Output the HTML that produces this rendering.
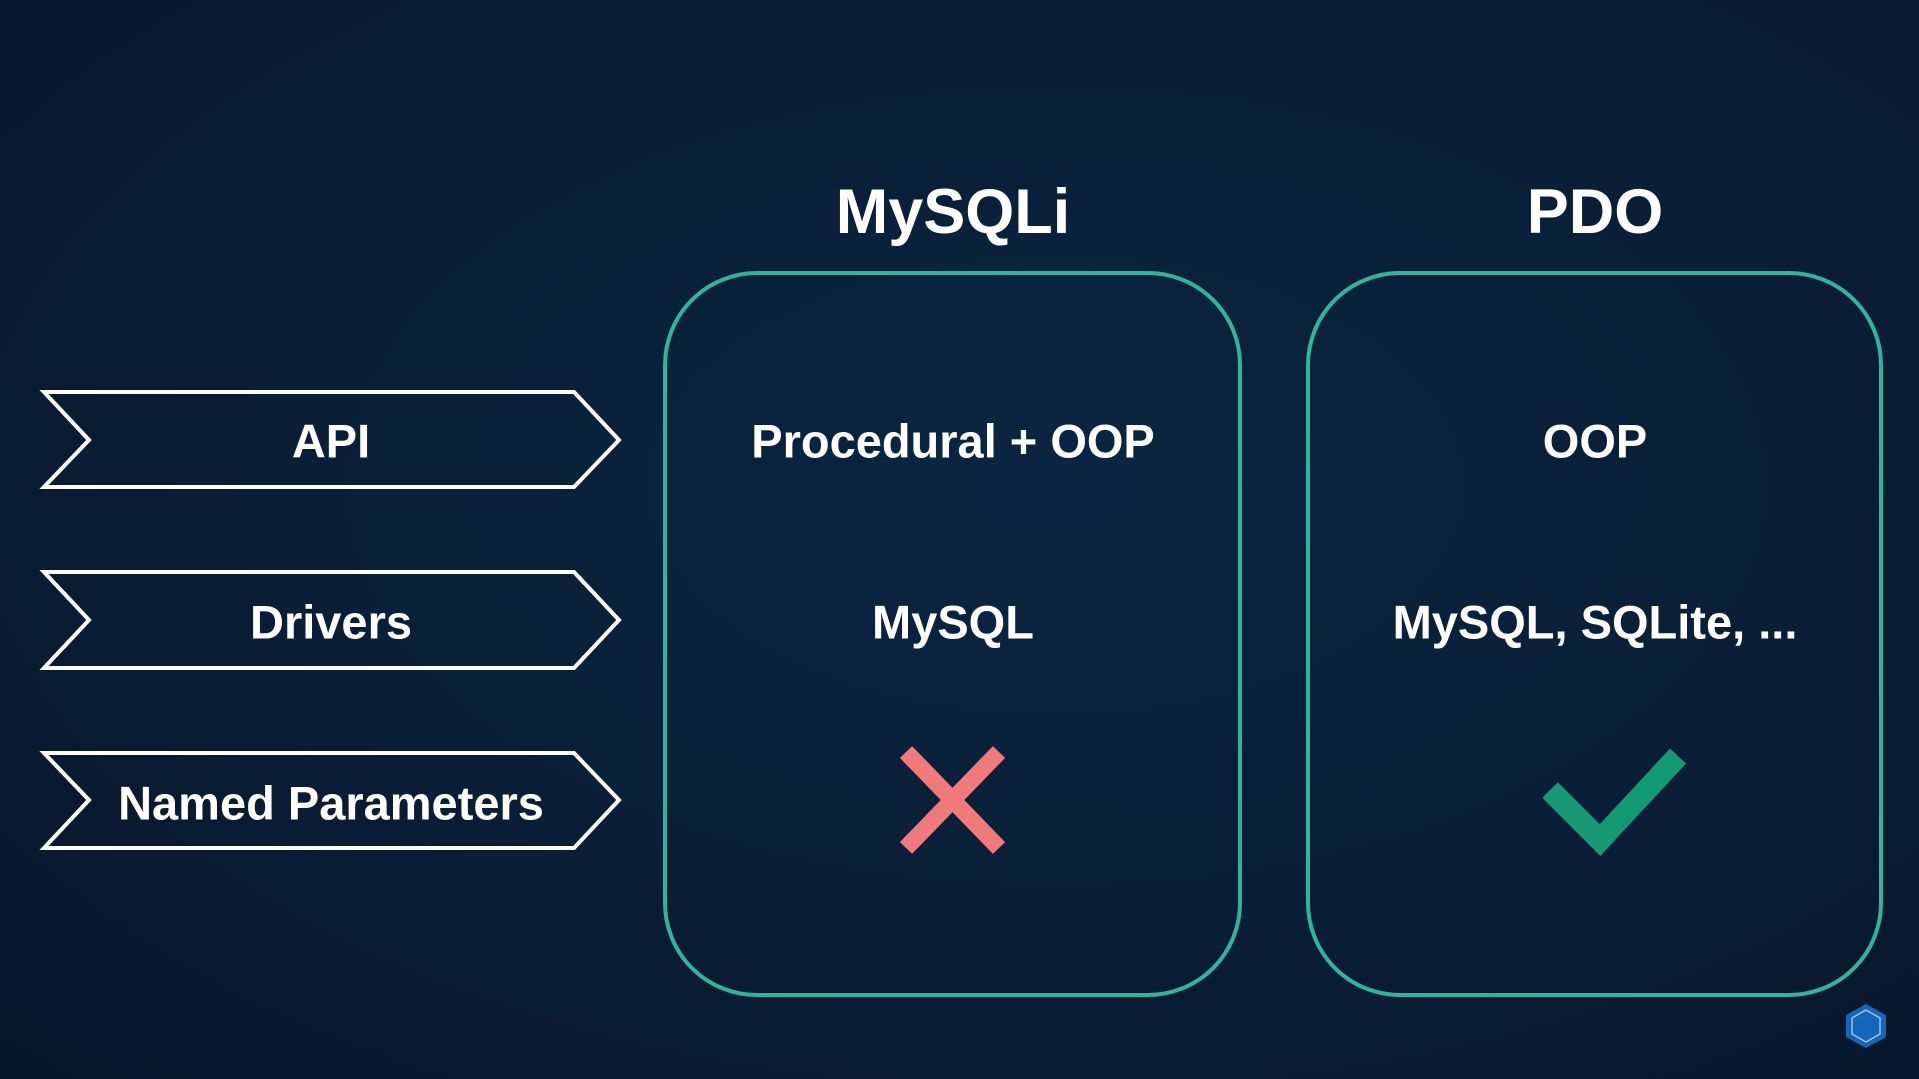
<!DOCTYPE html>
<html><head><style>
html,body{margin:0;padding:0;}
body{width:1919px;height:1079px;overflow:hidden;background:radial-gradient(ellipse at 55% 45%,#0b2542 0%,#0a1f38 45%,#081629 100%);font-family:"Liberation Sans",sans-serif;color:#fff;position:relative;}
.t{position:absolute;font-weight:bold;text-align:center;white-space:nowrap;transform:translate(-50%,-50%);}
</style></head><body>
<svg width="1919" height="1079" style="position:absolute;left:0;top:0">
<g fill="none" stroke="#fff" stroke-width="4" stroke-linejoin="miter">
<polygon points="44,392 574,392 619,440 574,487 44,487 89,440"/>
<polygon points="44,572 574,572 619,620 574,668 44,668 89,620"/>
<polygon points="44,753 574,753 619,800 574,848 44,848 89,800"/>
</g>
<rect x="665" y="273" width="575" height="722" rx="92" fill="none" stroke="#2fb59a" stroke-width="4"/>
<rect x="1308" y="273" width="573" height="722" rx="92" fill="none" stroke="#2fb59a" stroke-width="4"/>
<g stroke="#f07a7a" stroke-width="17">
<line x1="906" y1="752" x2="999" y2="848"/>
<line x1="999" y1="752" x2="906" y2="848"/>
</g>
<polyline points="1550,790 1600,840 1678,756" fill="none" stroke="#149a72" stroke-width="22"/>
<polygon points="1866,1004 1886,1015 1886,1037 1866,1048 1846,1037 1846,1015" fill="#1466b8"/>
<polygon points="1866,1010 1880,1018 1880,1034 1866,1042 1852,1034 1852,1018" fill="none" stroke="#9cc4ec" stroke-width="1.5"/>
</svg>
<div class="t" style="left:331px;top:441px;font-size:47px">API</div>
<div class="t" style="left:331px;top:622px;font-size:47px">Drivers</div>
<div class="t" style="left:331px;top:803px;font-size:47px">Named Parameters</div>
<div class="t" style="left:953px;top:212px;font-size:63px">MySQLi</div>
<div class="t" style="left:1595px;top:212px;font-size:63px">PDO</div>
<div class="t" style="left:953px;top:441px;font-size:47px">Procedural + OOP</div>
<div class="t" style="left:1595px;top:441px;font-size:47px">OOP</div>
<div class="t" style="left:953px;top:622px;font-size:47px">MySQL</div>
<div class="t" style="left:1595px;top:622px;font-size:47px">MySQL, SQLite, ...</div>
</body></html>
